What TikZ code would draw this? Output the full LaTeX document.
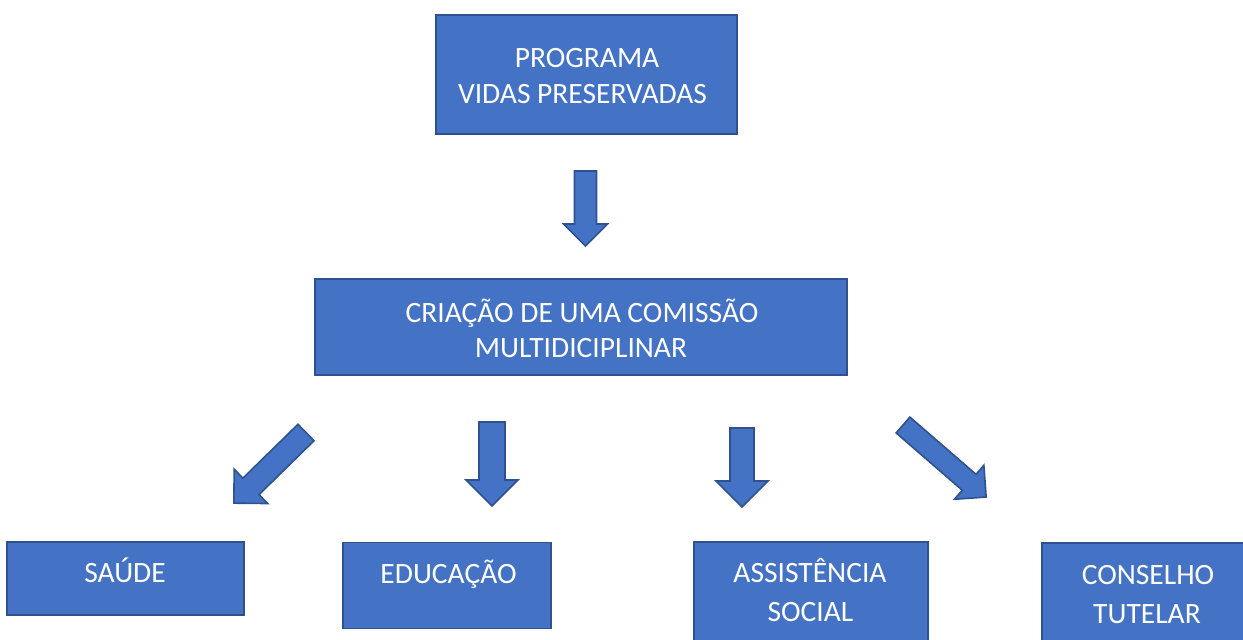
\documentclass[tikz,border=0pt]{standalone}
\usepackage{fontspec}
\setmainfont{Carlito}
\definecolor{boxfill}{HTML}{4472C4}
\definecolor{boxline}{HTML}{2F528F}
\newcommand\blockarrow[6]{%
  \begin{scope}[shift={(#1,#2)},rotate=#3]
    \draw[arr] (0,{#5/2}) -- ({#4-#6/2},{#5/2}) -- ({#4-#6/2},{#6/2}) -- (#4,0)
      -- ({#4-#6/2},{-#6/2}) -- ({#4-#6/2},{-#5/2}) -- (0,{-#5/2}) -- cycle;
  \end{scope}}
\begin{document}
\begin{tikzpicture}[x=1pt,y=-1pt,
  box/.style={draw=boxline,fill=boxfill,line width=1.6pt,inner sep=0pt,rectangle},
  arr/.style={draw=boxline,fill=boxfill,line width=1.6pt,line join=miter},
  txt/.style={text=white,inner sep=0pt,anchor=base,font=\fontsize{29.5}{36}\selectfont}]
\useasboundingbox (0,0) rectangle (1243,640);
\clip (0,0) rectangle (1243,640);
% boxes
\node[box,minimum width=301pt,minimum height=119pt] (prog) at (586.5,74.5) {};
\node[box,minimum width=532pt,minimum height=96pt] (cria) at (581,327) {};
\node[box,minimum width=237pt,minimum height=73pt] (saude) at (125.5,578.5) {};
\node[box,minimum width=208pt,minimum height=86pt] (educ) at (447,585.5) {};
\node[box,minimum width=234pt,minimum height=120pt] (assist) at (811,602) {};
\node[box,minimum width=210pt,minimum height=120pt] (cons) at (1147,603) {};
% texts
\node[txt] (tprog1) at (587,67) {PROGRAMA};
\node[txt] (tprog2) at (582.5,103) {VIDAS PRESERVADAS};
\node[txt] (tcria1) at (582,322) {CRIAÇÃO DE UMA COMISSÃO};
\node[txt] (tcria2) at (581,357) {MULTIDICIPLINAR};
\node[txt] (tsaude) at (125,582) {SAÚDE};
\node[txt] (teduc) at (448.5,583) {EDUCAÇÃO};
\node[txt] (tassist1) at (810,582) {ASSISTÊNCIA};
\node[txt] (tassist2) at (810.5,621) {SOCIAL};
\node[txt] (tcons1) at (1148,584) {CONSELHO};
\node[txt] (tcons2) at (1147,623) {TUTELAR};
% block arrows
\blockarrow{585.5}{171}{-90}{75}{22}{44}
\blockarrow{492}{422}{-90}{84}{26}{52}
\blockarrow{742}{428}{-90}{79}{24}{52}
\blockarrow{306}{432.5}{224.4}{101}{23}{48}
\blockarrow{903}{425}{-40.9}{110}{21}{45}
\end{tikzpicture}
\end{document}
